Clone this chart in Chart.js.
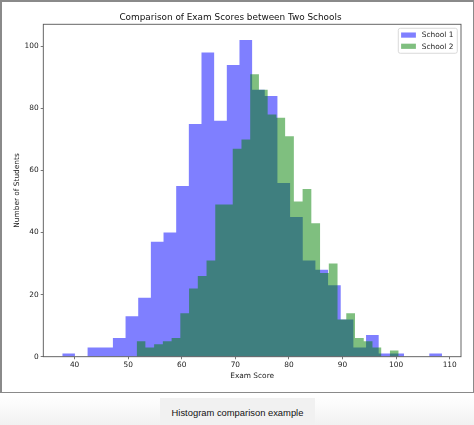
<!DOCTYPE html>
<html>
<head>
<meta charset="utf-8">
<script src="https://cdn.jsdelivr.net/npm/chart.js@4"></script>
<style>
  html, body { margin: 0; padding: 0; }
  body {
    width: 474px; height: 425px; position: relative; overflow: hidden;
    background: linear-gradient(#ffffff 395px, #fafafa 408px, #f1f1f1 425px);
  }
  #chart { position: absolute; left: 0; top: 0; }
  #frame {
    position: absolute; left: 0; top: 0; width: 474px; height: 393px;
    box-sizing: border-box; border: 2px solid #8a8a8a;
    border-bottom-width: 1.5px; border-right-width: 1px; pointer-events: none;
  }
  #caption {
    position: absolute; left: 160px; top: 398px; width: 155px; height: 27px;
    background: #f1f1f1; color: #111; text-align: center;
    font: 9.4px "Liberation Sans", Arial, sans-serif;
    line-height: 30px;
  }
</style>
</head>
<body>
<canvas id="chart" width="474" height="393"></canvas>
<div id="frame"></div>
<div id="caption">Histogram comparison example</div>
<script>
  // histogram counts per bin (30 bins each)
  const school1Counts = [1, 0, 3, 3, 6, 13, 19, 37, 40, 55, 75, 98, 76, 94, 102,
                         86, 84, 56, 45, 31, 28, 23, 12, 3, 7, 1, 1, 0, 0, 1];
  const school2Counts = [5, 3, 4, 5, 6, 14, 22, 26, 31, 49, 49, 67, 70, 91, 86,
                         78, 77, 71, 50, 54, 43, 27, 30, 12, 14, 6, 5, 3, 0, 2];

  // each school has its own bins
  const school1BinStart = 37.70;
  const school1BinWidth = 2.362;
  const school2BinStart = 51.58;
  const school2BinWidth = 1.630;

  const scoreTicks = [40, 50, 60, 70, 80, 90, 100, 110];
  const countTicks = [0, 20, 40, 60, 80, 100];

  // step points: left edge of every bin, then the closing right edge
  function binPoints(start, width, counts) {
    const pts = counts.map((c, i) => ({ x: start + i * width, y: c }));
    pts.push({ x: start + counts.length * width, y: 0 });
    return pts;
  }

  const font = { family: 'DejaVu Sans', size: 7.4 };

  const axesBox = {
    id: 'axesBox',
    afterDatasetsDraw(chart) {
      const { ctx, chartArea: a } = chart;
      ctx.save();
      ctx.strokeStyle = '#555';
      ctx.lineWidth = 0.9;
      ctx.strokeRect(a.left, a.top, a.right - a.left, a.bottom - a.top);
      ctx.restore();
    }
  };

  // legend drawn inside the plot, top right, like matplotlib
  const insideLegend = {
    id: 'insideLegend',
    afterDraw(chart) {
      const { ctx, chartArea: a } = chart;
      const sets = chart.data.datasets;
      const w = 59, h = 25;
      const x = a.right - 3.7 - w, y = a.top + 4;
      ctx.save();
      ctx.fillStyle = 'rgba(255,255,255,0.8)';
      ctx.strokeStyle = '#d0d0d0';
      ctx.lineWidth = 0.8;
      ctx.beginPath();
      ctx.roundRect(x, y, w, h, 2);
      ctx.fill();
      ctx.stroke();
      ctx.font = '7.4px "DejaVu Sans"';
      ctx.textBaseline = 'middle';
      sets.forEach((ds, i) => {
        const cy = y + 6.8 + i * 11.2;
        ctx.fillStyle = ds.backgroundColor;
        ctx.fillRect(x + 2.8, cy - 2.6, 14.8, 5.2);
        ctx.fillStyle = '#222';
        ctx.fillText(ds.label, x + 23.5, cy + 0.3);
      });
      ctx.restore();
    }
  };

  new Chart(document.getElementById('chart'), {
    type: 'line',
    data: {
      datasets: [{
        label: 'School 1',
        data: binPoints(school1BinStart, school1BinWidth, school1Counts),
        stepped: true,
        fill: 'origin',
        backgroundColor: 'rgba(0, 0, 255, 0.5)',
        borderColor: 'rgba(0,0,0,0)',
        borderWidth: 0,
        pointRadius: 0,
        order: 1
      }, {
        label: 'School 2',
        data: binPoints(school2BinStart, school2BinWidth, school2Counts),
        stepped: true,
        fill: 'origin',
        backgroundColor: 'rgba(0, 128, 0, 0.5)',
        borderColor: 'rgba(0,0,0,0)',
        borderWidth: 0,
        pointRadius: 0,
        order: 0
      }]
    },
    options: {
      responsive: false,
      animation: false,
      events: [],
      layout: { padding: { left: 0, right: 13, top: 0, bottom: 0 } },
      plugins: {
        legend: { display: false },
        tooltip: { enabled: false },
        title: {
          display: true,
          text: 'Comparison of Exam Scores between Two Schools',
          color: '#111',
          font: { family: 'DejaVu Sans', size: 8.9, weight: 'normal' },
          padding: { top: 12, bottom: 1.6 }
        }
      },
      scales: {
        x: {
          type: 'linear',
          min: 34.16,
          max: 112.11,
          afterBuildTicks: s => { s.ticks = scoreTicks.map(v => ({ value: v })); },
          afterFit: s => { s.height = 36.3; },
          border: { display: false },
          grid: { display: true, drawOnChartArea: false, tickLength: 2.6, color: '#555', lineWidth: 0.8 },
          ticks: { padding: 1.5, color: '#222', font: font, maxRotation: 0, autoSkip: false },
          title: { display: true, text: 'Exam Score', color: '#222', font: font, padding: { top: 0, bottom: 12.5 } }
        },
        y: {
          type: 'linear',
          min: 0,
          max: 107.1,
          afterBuildTicks: s => { s.ticks = countTicks.map(v => ({ value: v })); },
          afterFit: s => { s.width = 43.3; },
          border: { display: false },
          grid: { display: true, drawOnChartArea: false, tickLength: 2.6, color: '#555', lineWidth: 0.8 },
          ticks: { padding: 2, color: '#222', font: font },
          title: { display: true, text: 'Number of Students', color: '#222', font: font, padding: { top: 12.5, bottom: 0 } }
        }
      }
    },
    plugins: [axesBox, insideLegend]
  });
</script>
</body>
</html>
